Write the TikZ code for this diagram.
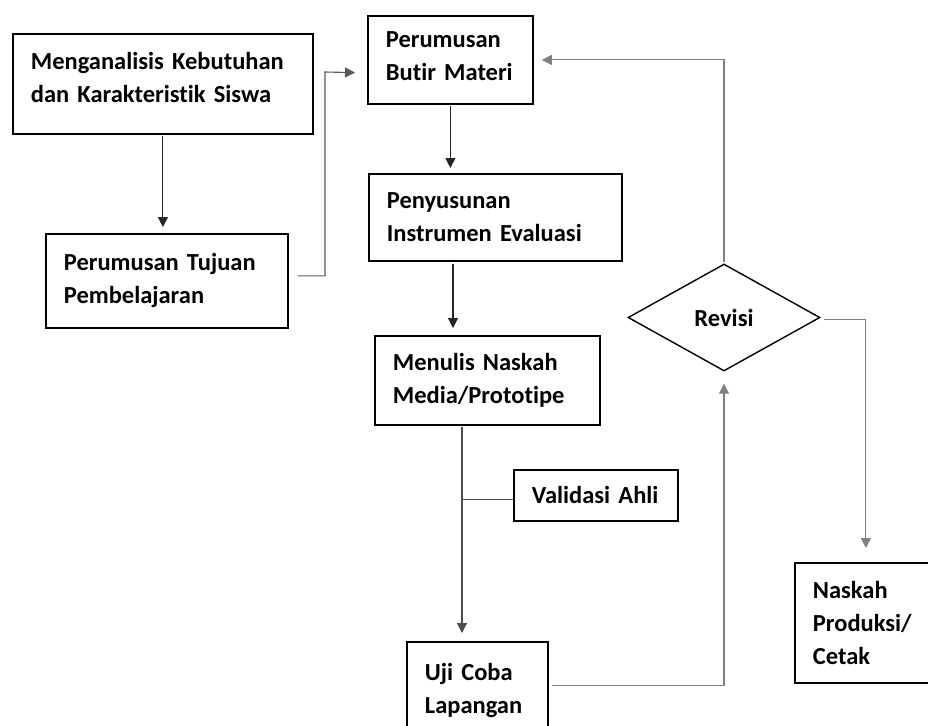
\documentclass[tikz,border=0pt]{standalone}
\usepackage{fontspec}
\setmainfont{Carlito}[Ligatures=NoCommon]
\usetikzlibrary{shapes.geometric,arrows.meta}
\begin{document}
\begin{tikzpicture}[x=1pt,y=-1pt,
  txt/.style={font=\bfseries\fontsize{24.5}{33}\selectfont},
  stepbox/.style={txt,draw=black,line width=1.8pt,rectangle,anchor=north west,
    inner xsep=18pt,inner ysep=0pt,align=left},
  decision/.style={txt,draw=black,line width=1.4pt,diamond,inner sep=0pt,
    minimum width=192pt,minimum height=107pt},
  flow/.style={draw=black!85,line width=1.1pt,-{Triangle[length=10pt,width=10pt]}},
  loop/.style={draw=black!50,line width=1.1pt,-{Triangle[length=10pt,width=10pt]}},
  plain/.style={draw=black!70,line width=1.1pt}]
\useasboundingbox (0,0) rectangle (928,725);
\clip (0,0) rectangle (928,725);

% process boxes
\node[stepbox,text width=264pt,minimum height=100pt,text depth=45pt] (b1) at (12,33)
  {\mbox{Menganalisis Kebutuhan}\\\mbox{dan Karakteristik Siswa}};
\node[stepbox,text width=206pt,minimum height=94pt] (b2) at (45,233)
  {\mbox{Perumusan Tujuan}\\Pembelajaran};
\node[stepbox,text width=129pt,minimum height=88pt,text depth=40pt] (b3) at (367,15)
  {Perumusan\\\mbox{Butir Materi}};
\node[stepbox,text width=217pt,minimum height=87pt] (b4) at (368,173)
  {Penyusunan\\\mbox{Instrumen Evaluasi}};
\node[stepbox,text width=189pt,minimum height=89pt] (b5) at (374,335)
  {\mbox{Menulis Naskah}\\Media/Prototipe};
\node[stepbox,text width=128pt,minimum height=51pt] (val) at (513,469)
  {\mbox{Validasi Ahli}};
\node[stepbox,text width=105pt,minimum height=98pt] (b6) at (406,641)
  {\mbox{Uji Coba}\\Lapangan};
\node[stepbox,text width=106pt,minimum height=120pt] (nk) at (794,562)
  {Naskah\\Produksi/\\Cetak};
\node[decision] (rev) at (724,317.5) {Revisi};

% guide lines for the vertical connectors
\coordinate (x4) at (453,0);
\coordinate (x5) at (462,0);
\coordinate (vw) at ([yshift=-4pt]val.west);

% main flow
\draw[flow,shorten <=1pt,shorten >=6pt] (b1.south) -- (b1.south |- b2.north);
\draw[loop,draw=black!65,shorten >=12pt] ([xshift=9pt,yshift=5pt]b2.east) -| (325,72)
  -- ([yshift=-13pt]b3.west);
\draw[flow,shorten <=1pt,shorten >=5pt] (b3.south) -- (b3.south |- b4.north);
\draw[flow,shorten <=2pt,shorten >=7pt] (b4.south -| x4) -- (b5.north -| x4);
\draw[flow,draw=black!70,shorten <=1pt,shorten >=8pt] (b5.south -| x5) -- (b6.north -| x5);
\draw[plain] (vw -| x5) -- (vw);

% revision loop
\draw[loop,shorten >=12pt] ([xshift=3pt,yshift=5pt]b6.east) -| (rev.south);
\draw[loop,shorten <=1pt,shorten >=8pt] (rev.north) |- (b3.east);
\draw[loop,shorten <=3pt,shorten >=14pt] ([yshift=-2pt]rev.east) -| (nk.north);
\end{tikzpicture}
\end{document}
